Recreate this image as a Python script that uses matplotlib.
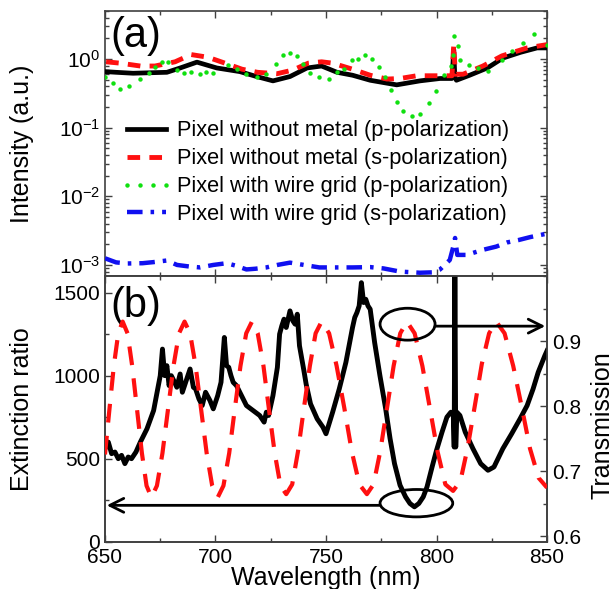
import matplotlib
matplotlib.use('Agg')
import matplotlib.pyplot as plt
from matplotlib.patches import Ellipse
from matplotlib.ticker import MultipleLocator, LogLocator, NullFormatter

plt.rcParams['font.family'] = ['Liberation Sans', 'DejaVu Sans']
plt.rcParams['mathtext.fontset'] = 'custom'
plt.rcParams['mathtext.rm'] = 'Liberation Sans'
plt.rcParams['mathtext.it'] = 'Liberation Sans:italic'
plt.rcParams['mathtext.default'] = 'regular'

# ---------------- Panel (a) data ----------------
wl_p_nometal = [650, 655, 662.7, 670, 678, 684, 691.6, 700.6, 711, 718.6, 726, 733.7,
                741.4, 748, 755, 762, 770, 782, 792.5, 801.6, 807, 807.8, 808.3, 809,
                815, 823, 830, 838, 845.5, 850]
int_p_nometal = [0.655, 0.64, 0.62, 0.63, 0.64, 0.74, 0.90, 0.74, 0.655, 0.555, 0.48, 0.555,
                 0.74, 0.79, 0.64, 0.58, 0.49, 0.42, 0.48, 0.52, 0.52, 1.37, 0.55, 0.49,
                 0.58, 0.74, 1.03, 1.25, 1.45, 1.45]

wl_s_nometal = [650.5, 656.8, 666, 672.6, 681.7, 689, 696.6, 703.4, 712, 719, 727.8, 735,
                742, 748, 753, 762, 770, 777.6, 783.5, 791, 800, 807, 807.8, 808.5, 812,
                821, 829.6, 841, 850]
int_s_nometal = [0.91, 0.87, 0.79, 0.79, 0.91, 1.16, 1.06, 0.89, 0.71, 0.64, 0.61, 0.69,
                 0.87, 0.91, 0.87, 0.71, 0.58, 0.51, 0.52, 0.57, 0.57, 0.57, 1.62, 0.60, 0.60,
                 0.79, 1.11, 1.45, 1.62]

wl_p_grid = [650, 653.7, 657, 661, 666, 670, 672.6, 675.6, 678.5, 682.6, 685.7, 689, 693,
             695.7, 699, 705.7, 709.7, 714, 719, 723, 727.4, 730.5, 733.7, 737, 739.6,
             742.8, 747, 751.5, 755, 758, 761.6, 764.5, 767.6, 771, 774, 776.7, 779.4,
             782, 785, 789, 792.5, 796.6, 799.8, 803.4, 806.6, 807.5, 808, 809.5, 810.6,
             814.7, 818.8, 823.3, 829.6, 834, 839, 844, 850]
int_p_grid = [0.555, 0.445, 0.364, 0.40, 0.51, 0.62, 0.77, 0.91, 0.89, 0.69, 0.62, 0.64, 0.61,
              0.64, 0.62, 0.82, 0.71, 0.60, 0.54, 0.60, 0.84, 1.16, 1.22, 1.09, 0.84,
              0.62, 0.555, 0.51, 0.64, 0.71, 0.96, 1.0, 1.13, 1.0, 0.77, 0.555, 0.355,
              0.237, 0.173, 0.146, 0.16, 0.228, 0.346, 0.58, 0.79, 1.16, 2.15, 1.53, 0.97,
              0.82, 0.74, 0.67, 0.97, 1.29, 1.71, 2.28, 1.62]

wl_s_grid = [650, 655, 660, 667, 672, 678, 682.6, 688, 693, 699, 705, 709, 714, 718, 723,
             728, 733.7, 740, 747, 755, 762, 770, 776, 783.5, 792.5, 798, 801.6, 806,
             807.5, 808.4, 809.4, 813.6, 821, 827, 832, 837, 842.5, 850]
int_s_grid = [1.25e-3, 1.09e-3, 1.05e-3, 1.06e-3, 1.10e-3, 1.16e-3, 1.0e-3, 0.95e-3, 0.92e-3,
              1.0e-3, 1.06e-3, 0.98e-3, 0.86e-3, 0.88e-3, 0.92e-3, 1.0e-3, 1.08e-3, 1.0e-3,
              0.92e-3, 0.92e-3, 0.92e-3, 0.93e-3, 0.89e-3, 0.80e-3, 0.77e-3, 0.78e-3, 0.86e-3,
              1.18e-3, 1.8e-3, 2.47e-3, 1.4e-3, 1.4e-3, 1.66e-3, 1.85e-3, 2.13e-3, 2.3e-3,
              2.55e-3, 2.86e-3]

legend_labels = ['Pixel without metal (p-polarization)',
                 'Pixel without metal (s-polarization)',
                 'Pixel with wire grid (p-polarization)',
                 'Pixel with wire grid (s-polarization)']

# ---------------- Panel (b) data ----------------
wl_er = [650, 651.5, 653, 654.5, 656, 657.5, 659, 660.5, 662, 664, 666, 669, 672, 674, 675, 676,
         677, 678, 679, 680, 681.5, 682.5, 684, 685, 686.5, 688.5, 690, 691, 692.5, 694, 695.5,
         697.5, 699, 701, 702.5, 704, 705, 706, 707, 708, 709.5, 711, 712.5, 714, 716, 718, 720,
         722, 723, 724, 726, 728, 729, 730, 731, 732, 733.7, 735, 736, 737, 738, 740, 741, 743,
         746, 748.6, 750, 753, 756, 759, 762, 763, 764, 765, 766, 767, 768, 769, 770, 772, 774.4,
         777, 779, 781, 783.5, 786, 788, 790, 792, 794, 795.7, 798, 800, 802.5, 804.7, 806.5,
         807.6, 808.0, 808.3, 808.7, 809.2, 810.6, 813, 816.5, 820, 823.3, 826, 830, 834,
         837.8, 841, 843.7, 846, 849, 850]
extinction = [560, 600, 530, 540, 500, 520, 470, 510, 500, 540, 600, 680, 790, 930, 1000, 1160,
              1000, 1060, 940, 1000, 960, 930, 1010, 900, 960, 1040, 930, 920, 860, 820, 900,
              850, 800, 880, 960, 1230, 1060, 1050, 1000, 960, 940, 900, 860, 820, 800, 780, 760,
              720, 780, 760, 880, 1050, 1250, 1300, 1340, 1290, 1390, 1330, 1310, 1370, 1180, 1030,
              950, 830, 740, 690, 650, 780, 920, 1080, 1290, 1350, 1380, 1420, 1560, 1440, 1460,
              1420, 1400, 1200, 1000,
              800, 620, 470, 340, 270, 230, 210, 230, 270, 330, 450, 550, 660, 750, 780,
              760, 570, 1700, 570, 780, 760, 660, 560, 470, 430, 450, 560, 650,
              740, 820, 920, 1020, 1120, 1150]

wl_tr = [650, 652, 654, 656, 658, 660.2, 662.3, 664.5, 666.7, 668.8, 671, 673.5, 676, 678.5,
         681, 683.5, 686, 688.5, 691, 693.5, 696, 698.5, 701, 703.6, 706.2, 708.7, 711.3,
         713.9, 716.5, 719.1, 721.7, 724.2, 726.8, 729.4, 732, 734.7, 737.3, 740, 742.7,
         745.3, 748, 751.4, 754.8, 758.3, 761.7, 765.1, 768.5, 771.5, 774.5, 777.6, 780.6,
         783.6, 786.6, 790.1, 793.6, 797, 800.5, 804, 807.5, 810.8, 814, 817.3, 820.5,
         823.8, 827, 830.8, 834.7, 838.5, 842.3, 846.2, 850]
transmission = [0.726, 0.795, 0.862, 0.912, 0.93, 0.912, 0.862, 0.795, 0.728, 0.678, 0.66,
                0.678, 0.728, 0.795, 0.862, 0.912, 0.93, 0.912, 0.862, 0.795, 0.728, 0.678,
                0.66, 0.678, 0.728, 0.795, 0.862, 0.912, 0.93, 0.912, 0.862, 0.795, 0.728,
                0.678, 0.665, 0.68, 0.73, 0.797, 0.862, 0.912, 0.93, 0.912, 0.862, 0.797,
                0.73, 0.68, 0.665, 0.68, 0.73, 0.797, 0.862, 0.912, 0.93, 0.912, 0.862,
                0.797, 0.73, 0.68, 0.67, 0.685, 0.735, 0.80, 0.865, 0.912, 0.93, 0.912,
                0.862, 0.80, 0.735, 0.69, 0.675]

RED = '#FF1010'
GREEN = '#10E010'
BLUE = '#1010F0'
SPINE = '#404040'

fig = plt.figure(figsize=(6.14, 5.89), dpi=100)
axA = fig.add_axes([0.1710, 0.5314, 0.7199, 0.4499])
axB = fig.add_axes([0.1710, 0.0803, 0.7199, 0.4511])

# ---- panel (a)
axA.plot(wl_p_nometal, int_p_nometal, color='black', lw=3.4, label=legend_labels[0], zorder=3)
axA.plot(wl_s_nometal, int_s_nometal, color=RED, lw=3.5, dashes=(2.6, 1.9),
         label=legend_labels[1], zorder=4)
axA.plot(wl_p_grid, int_p_grid, ls='none', marker='o', ms=3.2, mec='none', mfc=GREEN,
         label=legend_labels[2], zorder=5)
axA.plot(wl_s_grid, int_s_grid, color=BLUE, lw=3.2, dashes=(3.5, 1.8, 0.8, 1.8),
         label=legend_labels[3], zorder=4)
axA.set_yscale('log')
axA.set_xlim(650, 850)
axA.set_ylim(6.9e-4, 5.0)
axA.yaxis.set_major_locator(LogLocator(base=10, numticks=10))
axA.yaxis.set_minor_locator(LogLocator(base=10, subs=range(2, 10), numticks=10))
axA.yaxis.set_minor_formatter(NullFormatter())
axA.xaxis.set_major_locator(MultipleLocator(50))
axA.xaxis.set_minor_locator(MultipleLocator(25))
axA.tick_params(which='both', direction='in', top=True, right=True, labelbottom=False,
                labelsize=15, color=SPINE, width=1)
axA.tick_params(which='major', length=5)
axA.tick_params(which='minor', length=3)
axA.set_ylabel('Intensity (a.u.)', fontsize=18)
axA.yaxis.set_label_coords(-0.16, 0.5)
axA.text(0.012, 0.864, '(a)', transform=axA.transAxes, fontsize=30, ha='left', va='baseline')
axA.legend(loc='upper left', bbox_to_anchor=(0.034, 0.588), frameon=False, fontsize=15.7,
           handlelength=2.4, handletextpad=0.2, labelspacing=0.32, borderpad=0,
           borderaxespad=0, numpoints=4)

# ---- panel (b)
axB.plot(wl_er, extinction, color='black', lw=3.5, zorder=3)
axB.set_xlim(650, 850)
axB.set_ylim(0, 1600)
axB.set_yticks([0, 500, 1000, 1500])
axB.yaxis.set_minor_locator(MultipleLocator(250))
axB.xaxis.set_major_locator(MultipleLocator(50))
axB.xaxis.set_minor_locator(MultipleLocator(25))
axB.tick_params(which='both', direction='in', top=True, labelsize=15, color=SPINE, width=1)
axB.tick_params(which='major', length=5)
axB.tick_params(which='minor', length=3)
axB.tick_params(axis='x', pad=4.5)
axB.set_ylabel('Extinction ratio', fontsize=18)
axB.yaxis.set_label_coords(-0.16, 0.5)
axB.set_xlabel('Wavelength (nm)', fontsize=18)
axB.xaxis.set_label_coords(0.5, -0.09)
axB.text(0.012, 0.846, '(b)', transform=axB.transAxes, fontsize=30, ha='left', va='baseline')

ax2 = axB.twinx()
ax2.plot(wl_tr, transmission, color=RED, lw=3.0, dashes=(4.5, 3.2), zorder=3)
ax2.set_ylim(0.592, 1.0)
ax2.set_yticks([0.6, 0.7, 0.8, 0.9])
ax2.yaxis.set_minor_locator(MultipleLocator(0.05))
ax2.tick_params(which='both', direction='in', labelsize=15, color=SPINE, width=1)
ax2.tick_params(which='major', length=5)
ax2.tick_params(which='minor', length=3)
ax2.set_ylabel('Transmission', fontsize=18)
ax2.yaxis.set_label_coords(1.0995, 0.439)

# annotations: ellipses + arrows
ax2.add_patch(Ellipse((786.9, 0.926), width=24.9, height=0.049, fill=False, lw=2, ec='black', zorder=6))
ax2.annotate('', xy=(849.2, 0.923), xytext=(799.3, 0.923),
             arrowprops=dict(arrowstyle='->', lw=2, color='black', mutation_scale=25,
                             shrinkA=0, shrinkB=0), zorder=6)
axB.add_patch(Ellipse((790.9, 232), width=32.9, height=165, fill=False, lw=2, ec='black', zorder=6))
axB.annotate('', xy=(650.8, 219), xytext=(774.3, 219),
             arrowprops=dict(arrowstyle='->', lw=2, color='black', mutation_scale=25,
                             shrinkA=0, shrinkB=0), zorder=6)

for ax in (axA, axB, ax2):
    for s in ax.spines.values():
        s.set_color(SPINE)
        s.set_linewidth(1.2)

fig.savefig('out.png', dpi=100)
